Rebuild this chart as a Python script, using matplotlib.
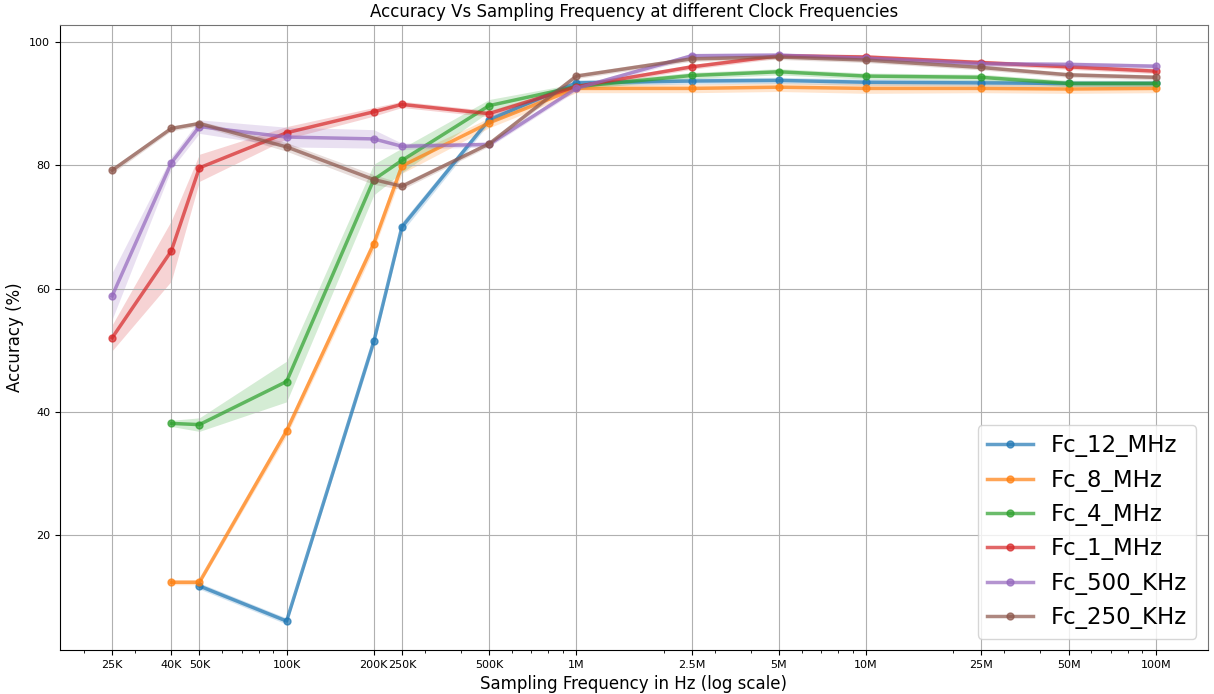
import numpy as np
import matplotlib.pyplot as plt

nan = np.nan

# Sampling frequencies (Hz) and their tick labels
freqs = [25e3, 40e3, 50e3, 100e3, 200e3, 250e3, 500e3, 1e6, 2.5e6, 5e6, 10e6, 25e6, 50e6, 100e6]
tick_labels = ['25K', '40K', '50K', '100K', '200K', '250K', '500K', '1M', '2.5M', '5M', '10M', '25M', '50M', '100M']

labels = ['Fc_12_MHz', 'Fc_8_MHz', 'Fc_4_MHz', 'Fc_1_MHz', 'Fc_500_KHz', 'Fc_250_KHz']

# mean accuracy per clock frequency
acc_12m = [nan, nan, 11.7, 6.0, 51.4, 70.0, 87.4, 93.4, 93.7, 93.8, 93.5, 93.4, 93.3, 93.3]
acc_8m = [nan, 12.3, 12.3, 36.9, 67.3, 79.9, 86.9, 92.5, 92.5, 92.7, 92.5, 92.5, 92.4, 92.5]
acc_4m = [nan, 38.1, 37.9, 44.9, 77.7, 80.8, 89.7, 92.8, 94.6, 95.2, 94.5, 94.3, 93.3, 93.3]
acc_1m = [52.0, 66.1, 79.6, 85.3, 88.7, 89.9, 88.4, 92.8, 96.0, 97.8, 97.6, 96.7, 96.0, 95.3]
acc_500k = [58.8, 80.4, 86.3, 84.6, 84.3, 83.1, 83.4, 92.5, 97.8, 97.9, 97.4, 96.5, 96.4, 96.1]
acc_250k = [79.2, 86.0, 86.8, 83.0, 77.7, 76.6, 83.5, 94.5, 97.3, 97.6, 97.1, 95.9, 94.7, 94.3]

# spread (std) per clock frequency
std_12m = [nan, nan, 0.5, 0.5, 0.8, 0.8, 0.6, 0.5, 0.5, 0.5, 0.5, 0.5, 0.5, 0.5]
std_8m = [nan, 0.4, 0.4, 0.8, 1.0, 1.2, 0.8, 0.7, 0.7, 0.7, 0.8, 0.7, 0.7, 0.7]
std_4m = [nan, 0.5, 1.1, 3.3, 2.5, 2.0, 1.0, 0.5, 0.5, 0.5, 0.5, 0.5, 0.5, 0.5]
std_1m = [2.1, 4.9, 2.2, 1.0, 0.7, 0.5, 0.5, 0.4, 0.4, 0.4, 0.4, 0.4, 0.4, 0.4]
std_500k = [3.8, 1.0, 1.1, 1.6, 1.5, 0.5, 0.4, 0.4, 0.4, 0.4, 0.4, 0.4, 0.4, 0.4]
std_250k = [0.5, 0.4, 0.4, 0.7, 0.8, 0.5, 0.4, 0.4, 0.4, 0.4, 0.4, 0.4, 0.4, 0.4]

means = [acc_12m, acc_8m, acc_4m, acc_1m, acc_500k, acc_250k]
stds = [std_12m, std_8m, std_4m, std_1m, std_500k, std_250k]
colors = ['tab:blue', 'tab:orange', 'tab:green', 'tab:red', 'tab:purple', 'tab:brown']

fig, ax = plt.subplots(figsize=(12.14, 6.94), dpi=100)
fig.subplots_adjust(left=0.0494, right=0.995, top=0.964, bottom=0.0634)

x = np.array(freqs)
for lab, m, s, c in zip(labels, means, stds, colors):
    m = np.array(m)
    s = np.array(s)
    ax.fill_between(x, m - s, m + s, color=c, alpha=0.2, linewidth=0)
    ax.plot(x, m, '-o', color=c, alpha=0.7, linewidth=2.5, markersize=5, label=lab)

ax.set_xscale('log')
ax.set_xticks(freqs)
ax.set_xticklabels(tick_labels, fontsize=8)
ax.tick_params(axis='y', labelsize=8)
ax.set_ylim(1.3, 102.8)
ax.set_yticks([20, 40, 60, 80, 100])
ax.grid(True, which='major', color='#b0b0b0', linewidth=0.8)

for side in ['top', 'right']:
    ax.spines[side].set_color('0.45')

ax.set_title('Accuracy Vs Sampling Frequency at different Clock Frequencies', fontsize=12)
ax.set_xlabel('Sampling Frequency in Hz (log scale)', fontsize=12)
ax.set_ylabel('Accuracy (%)', fontsize=12)
ax.legend(loc='lower right', fontsize=16.5)

plt.savefig('out.png')
